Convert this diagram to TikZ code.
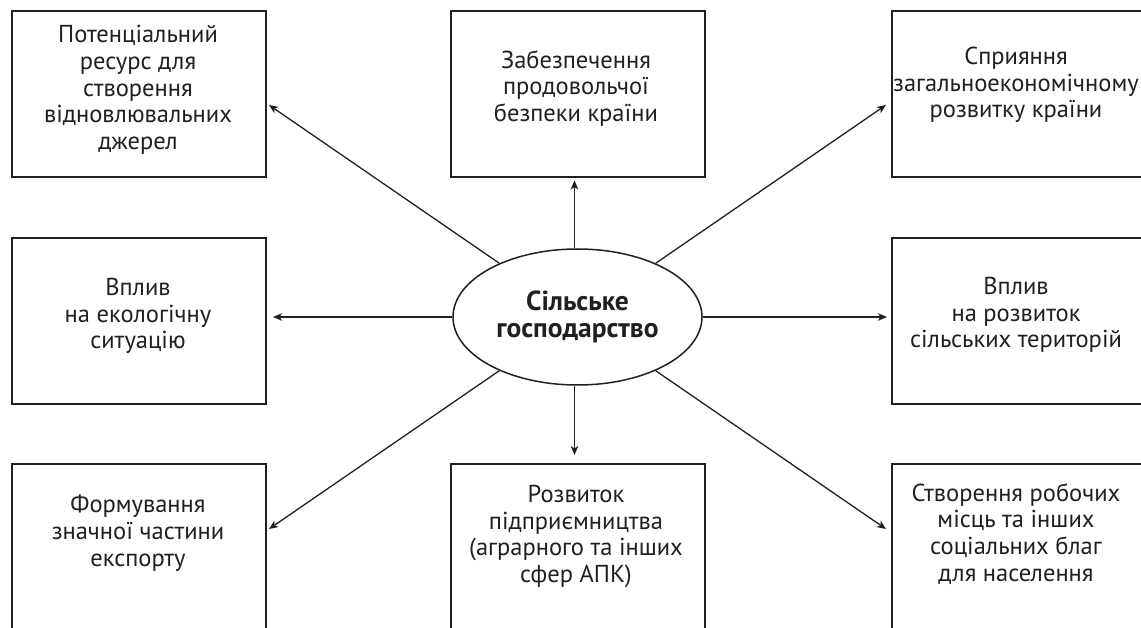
\documentclass[tikz,border=0pt]{standalone}
\usepackage{fontspec}
\setmainfont{PT Sans}
\usetikzlibrary{arrows.meta,calc,shapes.geometric}
\definecolor{ink}{HTML}{231F20}
\begin{document}
\begin{tikzpicture}[x=1pt,y=-1pt,
  box/.style={draw=ink,line width=2pt,minimum width=254pt,minimum height=166pt,anchor=north west,inner sep=0pt},
  txt/.style={text=ink,align=center,inner sep=0pt,font=\fontsize{24.5}{26.7}\selectfont},
  arr/.style={draw=ink,line width=1.3pt,-{Stealth[length=9pt,width=7.5pt,inset=2.5pt]}}]
\useasboundingbox (0,0) rectangle (1141,628);
\clip (0,0) rectangle (1141,628);
\fill[white] (0,0) rectangle (1141,628);
% boxes
\node[box] (tl) at (11,10) {};
\node[box] (tm) at (449.5,10) {};
\node[box] (tr) at (891,10) {};
\node[box] (ml) at (11,237) {};
\node[box] (mr) at (891,237) {};
\node[box] (bl) at (11,463) {};
\node[box] (bm) at (449.5,463) {};
\node[box] (br) at (891,463) {};
% texts
\node[txt] (ttl) at (138,90) {Потенціальний\\ресурс для\\створення\\відновлювальних\\джерел};
\node[txt] (ttm) at (576,88.5) {Забезпечення\\продовольчої\\безпеки країни};
\node[txt] (ttr) at (1016,85) {Сприяння\\загальноекономічному\\розвитку країни};
\node[txt] (tml) at (138,316) {Вплив\\на екологічну\\ситуацію};
\node[txt] (tmr) at (1016,315) {Вплив\\на розвиток\\сільських територій};
\node[txt] (tbl) at (138,533) {Формування\\значної частини\\експорту};
\node[txt] (tbm) at (576,536.5) {Розвиток\\підприємництва\\(аграрного та інших\\сфер АПК)};
\node[txt] (tbr) at (1016,534) {Створення робочих\\місць та інших\\соціальних благ\\для населення};
% centre
\node[draw=ink,line width=1.5pt,ellipse,minimum width=249pt,minimum height=136pt,inner sep=0pt,
  text=ink,align=center,font=\fontsize{27.5}{26.5}\selectfont\bfseries] (c) at (577.5,317) {Сільське\\господарство};
% arrow ends
\coordinate (eT) at (574.5,180.5);
\coordinate (eB) at (574.5,455);
\coordinate (eL) at (273,317);
\coordinate (eR) at (887,317);
\coordinate (eTL) at (269,105);
\coordinate (eTR) at (886,105);
\coordinate (eBL) at (269,529);
\coordinate (eBR) at (886,529);
% arrows
\draw[arr] (c.north -| eT) -- (eT);
\draw[arr] (c.south -| eB) -- (eB);
\draw[arr] (c.west) -- (eL);
\draw[arr] (c.east) -- (eR);
\draw[arr] (c) -- (eTL);
\draw[arr] (c) -- (eTR);
\draw[arr] (c) -- (eBL);
\draw[arr] (c) -- (eBR);
\end{tikzpicture}
\end{document}
